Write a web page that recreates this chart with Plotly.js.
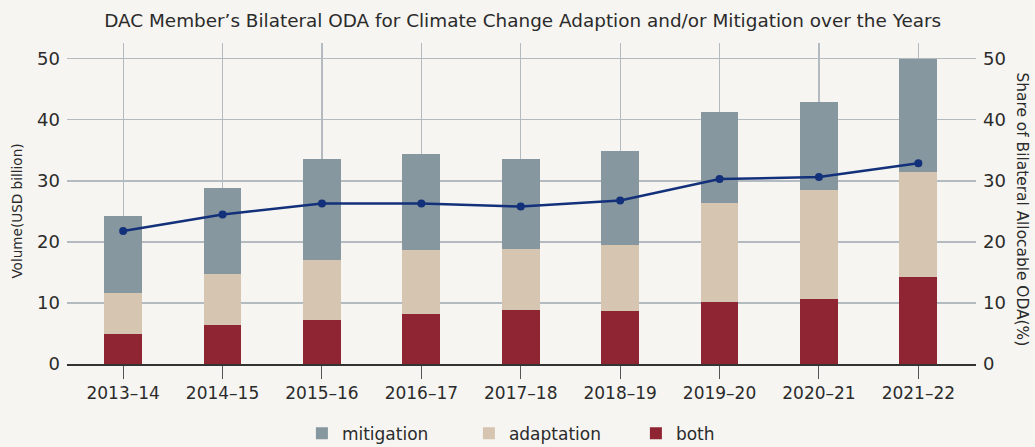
<!DOCTYPE html>
<html>
<head>
<meta charset="utf-8">
<script src="https://cdn.plot.ly/plotly-3.0.1.min.js"></script>
<style>html,body{margin:0;padding:0;background:#f6f5f1;}#chart{width:1035px;height:447px;}</style>
</head>
<body>
<div id="chart"></div>
<script>
const years = ["2013–14","2014–15","2015–16","2016–17","2017–18","2018–19","2019–20","2020–21","2021–22"];
const both = [4.9, 6.4, 7.2, 8.2, 8.85, 8.7, 10.2, 10.65, 14.25];
const adaptation = [6.7, 8.35, 9.85, 10.5, 10.0, 10.8, 16.2, 17.85, 17.25];
const mitigation = [12.7, 14.1, 16.55, 15.7, 14.75, 15.4, 14.9, 14.45, 18.5];
const share = [21.8, 24.5, 26.3, 26.3, 25.8, 26.8, 30.3, 30.65, 32.9];

const FONT = "'DejaVu Sans', Roboto, sans-serif";
const txt = "#2b2b2b";

const traces = [
  {type:"bar", name:"both", x:years, y:both, marker:{color:"#8f2533"}, width:0.38, legendrank:3},
  {type:"bar", name:"adaptation", x:years, y:adaptation, marker:{color:"#d6c5b1"}, width:0.38, legendrank:2},
  {type:"bar", name:"mitigation", x:years, y:mitigation, marker:{color:"#87979f"}, width:0.38, legendrank:1},
  {type:"scatter", mode:"lines+markers", name:"share", x:years, y:share, yaxis:"y2",
   line:{color:"#13307a", width:2.5}, marker:{color:"#13307a", size:8}, showlegend:false}
];

const layout = {
  width:1035, height:447,
  paper_bgcolor:"#f6f5f1", plot_bgcolor:"#f6f5f1",
  margin:{l:67, r:59, t:43, b:83, autoexpand:false},
  barmode:"stack",
  font:{family:FONT, color:txt, size:17},
  title:{text:"DAC Member’s Bilateral ODA for Climate Change Adaption and/or Mitigation over the Years",
         font:{family:FONT, size:18.4, color:txt}, x:0.505, xanchor:"center", y:0.953, yanchor:"middle"},
  xaxis:{type:"category", range:[-0.565, 8.58], showgrid:true, gridcolor:"#b3bac0", gridwidth:1.2,
         ticks:"outside", ticklen:13, tickcolor:"#555", showline:true, linecolor:"#333", linewidth:1.5,
         tickfont:{size:17, color:txt}, zeroline:false, automargin:false},
  yaxis:{range:[0, 52.6], tickvals:[0,10,20,30,40,50], showgrid:true, gridcolor:"#b3bac0", gridwidth:1.2,
         zeroline:false, ticks:"", tickfont:{size:18, color:txt}, ticklabelstandoff:6, automargin:false},
  yaxis2:{overlaying:"y", side:"right", range:[0, 52.6], tickvals:[0,10,20,30,40,50], showgrid:false,
          zeroline:false, ticks:"", tickfont:{size:18, color:txt}, ticklabelstandoff:6, automargin:false},
  legend:{orientation:"h", x:0.534, xanchor:"center", yref:"container", y:0.03, yanchor:"middle", traceorder:"normal",
          font:{size:17, color:txt}, bgcolor:"rgba(0,0,0,0)", entrywidth:122},
  annotations:[
    {text:"Volume(USD billion)", xref:"paper", yref:"paper", x:-0.056, y:0.475,
     xanchor:"center", yanchor:"middle", textangle:-90, showarrow:false, font:{size:13.6, color:txt}},
    {text:"Share of Bilateral Allocable ODA(%)", xref:"paper", yref:"paper", x:1.051, y:0.48,
     xanchor:"center", yanchor:"middle", textangle:90, showarrow:false, font:{size:15.4, color:txt}}]
};

Plotly.newPlot("chart", traces, layout, {displayModeBar:false, staticPlot:true});
</script>
</body>
</html>
